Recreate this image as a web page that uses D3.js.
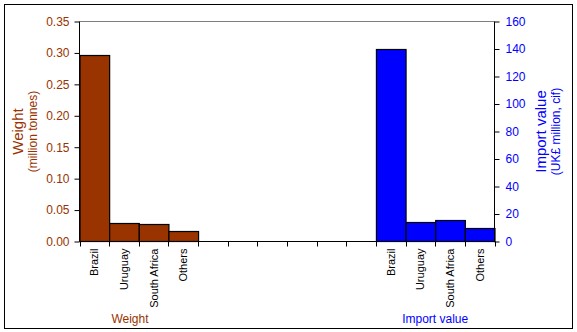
<!DOCTYPE html>
<html>
<head>
<meta charset="utf-8">
<script src="https://cdn.jsdelivr.net/npm/d3@7"></script>
<style>
  body { margin: 0; background: #fff; }
  svg { display: block; font-family: "Liberation Sans", Arial, sans-serif; }
</style>
</head>
<body>
<svg id="chart" width="577" height="332"></svg>
<script>
// Countries shown in each group
const countries = ["Brazil", "Uruguay", "South Africa", "Others"];
// Weight of imports (million tonnes)
const weightValues = [0.297, 0.029, 0.0274, 0.0162];
// Import value (UK£ million, cif)
const importValues = [140, 14.0, 15.4, 9.6];
// Number of empty slots separating the two groups
const gapSlots = 6;
const weightTicks = [0, 0.05, 0.10, 0.15, 0.20, 0.25, 0.30, 0.35];
const valueTicks = [0, 20, 40, 60, 80, 100, 120, 140, 160];

const brown = "#993300";
const blue = "#0000ff";

const svg = d3.select("#chart");

// Outer chart border
svg.append("rect")
  .attr("x", 4.5).attr("y", 4.5)
  .attr("width", 568).attr("height", 324)
  .attr("fill", "#fff").attr("stroke", "#000").attr("stroke-width", 1);

const plot = { left: 79.5, right: 494.5, top: 21.5, bottom: 241.5 };

// One slot per category, with blank slots between the groups
const slots = [
  ...countries.map(c => ({ key: "w-" + c, label: c, group: "w" })),
  ...d3.range(gapSlots).map(i => ({ key: "gap-" + i, label: "", group: null })),
  ...countries.map(c => ({ key: "v-" + c, label: c, group: "v" }))
];

const x = d3.scaleBand()
  .domain(slots.map(d => d.key))
  .range([plot.left, plot.right])
  .paddingInner(0).paddingOuter(0);

const yW = d3.scaleLinear().domain([0, 0.35]).range([plot.bottom, plot.top]);
const yV = d3.scaleLinear().domain([0, 160]).range([plot.bottom, plot.top]);

// Plot area top edge
svg.append("line")
  .attr("x1", plot.left).attr("x2", plot.right)
  .attr("y1", plot.top).attr("y2", plot.top)
  .attr("stroke", "#808080");

// Weight bars
svg.append("g").selectAll("rect")
  .data(countries.map((c, i) => ({ key: "w-" + c, v: weightValues[i] })))
  .join("rect")
  .attr("x", d => x(d.key) + 0.5)
  .attr("width", x.bandwidth())
  .attr("y", d => Math.round(yW(d.v)) + 0.5)
  .attr("height", d => plot.bottom - Math.round(yW(d.v)) - 0.5)
  .attr("fill", brown).attr("stroke", "#000").attr("stroke-width", 1.2);

// Import value bars
svg.append("g").selectAll("rect")
  .data(countries.map((c, i) => ({ key: "v-" + c, v: importValues[i] })))
  .join("rect")
  .attr("x", d => x(d.key) + 0.5)
  .attr("width", x.bandwidth())
  .attr("y", d => Math.round(yV(d.v)) + 0.5)
  .attr("height", d => plot.bottom - Math.round(yV(d.v)) - 0.5)
  .attr("fill", blue).attr("stroke", "#000").attr("stroke-width", 1.2);

// Left axis (weight)
const leftAxis = svg.append("g")
  .attr("transform", `translate(${plot.left},0)`)
  .call(d3.axisLeft(yW).tickValues(weightTicks).tickFormat(d3.format(".2f")).tickSize(5).tickPadding(5));
leftAxis.select(".domain").attr("stroke", "#000").attr("d", `M0,${plot.top}V${plot.bottom}`);
leftAxis.selectAll(".tick line").attr("stroke", "#000");
leftAxis.selectAll(".tick text").attr("fill", brown).attr("font-size", 12)
  .attr("font-family", "Liberation Sans, Arial, sans-serif");

// Right axis (import value)
const rightAxis = svg.append("g")
  .attr("transform", `translate(${plot.right},0)`)
  .call(d3.axisRight(yV).tickValues(valueTicks).tickSize(5).tickPadding(6));
rightAxis.select(".domain").attr("stroke", "#000").attr("d", `M0,${plot.top}V${plot.bottom}`);
rightAxis.selectAll(".tick line").attr("stroke", "#000");
rightAxis.selectAll(".tick text").attr("fill", blue).attr("font-size", 12)
  .attr("font-family", "Liberation Sans, Arial, sans-serif");

// Category axis: ticks at slot boundaries
const boundaries = slots.map(d => x(d.key)).concat([plot.right]);
const bottom = svg.append("g");
bottom.append("line")
  .attr("x1", plot.left).attr("x2", plot.right)
  .attr("y1", plot.bottom).attr("y2", plot.bottom)
  .attr("stroke", "#000").attr("stroke-width", 1.2);
bottom.selectAll("line.tick")
  .data(boundaries)
  .join("line").attr("class", "tick")
  .attr("x1", d => Math.round(d) + 0.5).attr("x2", d => Math.round(d) + 0.5)
  .attr("y1", plot.bottom).attr("y2", plot.bottom + 5)
  .attr("stroke", "#000");

// Rotated country labels
bottom.selectAll("text")
  .data(slots.filter(d => d.label))
  .join("text")
  .attr("transform", d => `translate(${x(d.key) + x.bandwidth() / 2 + 4},${plot.bottom + 7}) rotate(-90)`)
  .attr("text-anchor", "end")
  .attr("font-size", 11)
  .attr("fill", "#000")
  .text(d => d.label);

// Group titles beneath the categories
svg.append("text")
  .attr("x", 130).attr("y", 323)
  .attr("text-anchor", "middle").attr("font-size", 12).attr("fill", brown)
  .text("Weight");
svg.append("text")
  .attr("x", (x("v-Brazil") + plot.right) / 2).attr("y", 323)
  .attr("text-anchor", "middle").attr("font-size", 12).attr("fill", blue)
  .text("Import value");

// Left axis title
const midY = (plot.top + plot.bottom) / 2;
const lt = svg.append("text")
  .attr("transform", `translate(23,${midY}) rotate(-90)`)
  .attr("text-anchor", "middle").attr("fill", brown);
lt.append("tspan").attr("x", 0).attr("dy", 0).attr("font-size", 15).text("Weight");
lt.append("tspan").attr("x", 0).attr("dy", 14).attr("font-size", 12).text("(million tonnes)");

// Right axis title
const rt = svg.append("text")
  .attr("transform", `translate(546,${midY}) rotate(-90)`)
  .attr("text-anchor", "middle").attr("fill", blue);
rt.append("tspan").attr("x", 0).attr("dy", 0).attr("font-size", 15).text("Import value");
rt.append("tspan").attr("x", 0).attr("dy", 14).attr("font-size", 12).text("(UK£ million, cif)");
</script>
</body>
</html>
